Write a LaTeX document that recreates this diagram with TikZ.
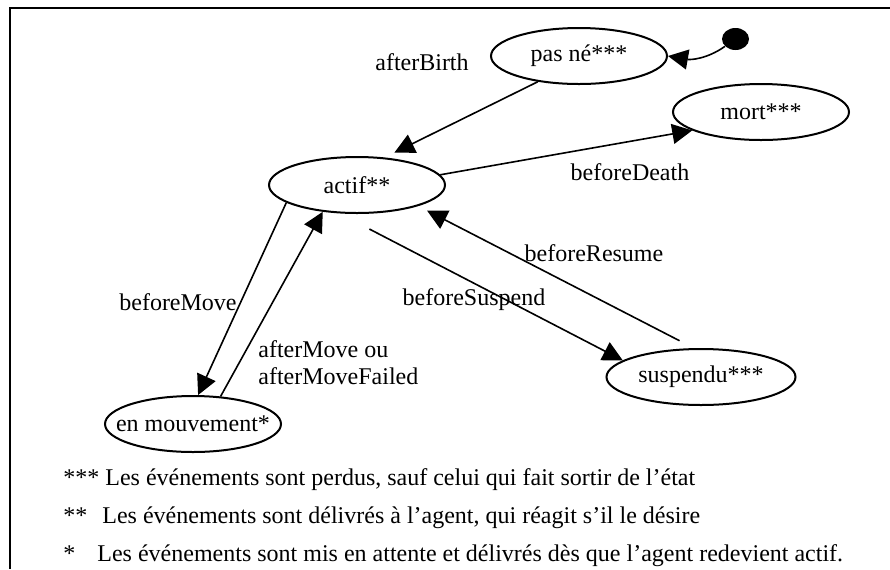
\documentclass[tikz,border=0pt]{standalone}
\usepackage{fontspec}
\setmainfont{Liberation Serif}
\usepackage{tikz}
\usetikzlibrary{positioning, arrows.meta, shapes.geometric}

\newcommand{\etiq}[1]{\makebox[0pt]{#1}}

\begin{document}
\begin{tikzpicture}[
  x=0.5pt, y=-0.5pt,
  every node/.style={font=\fontsize{12}{13.5}\selectfont},
  etat/.style={
    ellipse, draw, line width=1pt,
    minimum width=88pt, minimum height=28pt,
    inner sep=0pt,
  },
  debut/.style={ellipse, fill, minimum width=13.5pt, minimum height=11pt, inner sep=0pt},
  fleche/.style={-{Triangle[length=10pt,width=10pt]}, line width=0.8pt},
  lbl/.style={inner sep=0pt},
  note/.style={anchor=base west, inner sep=0pt},
]
\useasboundingbox (0,0) rectangle (890,569);
\draw[line width=1pt] (890,8) -- (10,8) -- (10,569);

\node[etat] (pasne) at (579,56) {\etiq{pas né***}};
\node[etat] (mort) at (761,112) {\etiq{mort***}};
\node[etat] (actif) at (357,185) {\etiq{actif**}};
\node[etat] (mouv) at (193,424) {\etiq{en mouvement*}};
\node[etat, minimum width=94.5pt] (susp) at (701,377) {\etiq{suspendu***}};
\node[debut] (init) at (735.5,39) {};

\draw[fleche] (init.215) to[out=215, in=-10] (pasne.east);
\draw[fleche, shorten >=5.5pt] (pasne.212) -- (actif.45);
\draw[fleche] (actif.7) -- (mort.195);
\draw[fleche] (actif.194) -- (mouv.80);
\draw[fleche] (mouv.45) -- (actif.218);
\draw[fleche, shorten <=17pt] (actif.238) -- (susp.168);
\draw[fleche, shorten <=8pt, shorten >=5pt] (susp.104) -- (actif.341);

\node[lbl] (lbirth) at (422,62) {afterBirth};
\node[lbl] (ldeath) at (630,172) {beforeDeath};
\node[lbl] (lmove) at (178,302) {beforeMove};
\node[lbl, align=left, anchor=west] (lafter) at (258,363) {afterMove ou\\afterMoveFailed};
\node[lbl] (lsusp) at (474,300) {beforeSuspend};
\node[lbl] (lresume) at (594,253) {beforeResume};

\node[note] (note3) at (63,485) {***~Les événements sont perdus, sauf celui qui fait sortir de l’état};
\node[note] (note2) at (63,523) {**\hspace{7.5pt}Les événements sont délivrés à l’agent, qui réagit s’il le désire};
\node[note] (note1) at (63,561) {*\hspace{11pt}Les événements sont mis en attente et délivrés dès que l’agent redevient actif.};
\end{tikzpicture}
\end{document}
